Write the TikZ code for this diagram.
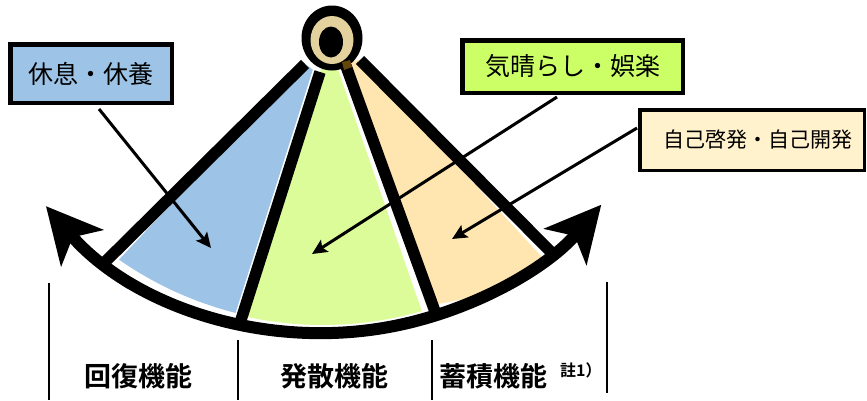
\documentclass[tikz,border=0pt]{standalone}
\usepackage{fontspec}
\newfontfamily\jp{Noto Sans CJK JP}[BoldFont={Noto Sans CJK JP Bold}]
\usetikzlibrary{arrows.meta,calc}
\definecolor{blueF}{RGB}{157,195,230}
\definecolor{greenF}{RGB}{220,252,154}
\definecolor{tanF}{RGB}{255,230,176}
\definecolor{greenBox}{RGB}{204,255,102}
\definecolor{creamBox}{RGB}{255,242,204}
\definecolor{pivotTan}{RGB}{228,210,158}
\definecolor{brownP}{RGB}{100,70,10}
\tikzset{bigtip/.tip={Stealth[length=55pt,width=55pt,inset=14pt]}}
\begin{document}
\begin{tikzpicture}[x=1pt,y=1pt,
  spoke/.style={line width=11.5pt, line cap=butt},
  conn/.style={line width=3pt, -{Stealth[length=15pt,width=14pt,inset=3pt]}},
  sepline/.style={line width=2.5pt},
  box/.style={draw=black, inner sep=0pt},
  func/.style={font=\jp\bfseries\fontsize{27}{30}\selectfont, inner sep=0pt}
]
\useasboundingbox (0,0) rectangle (867,-400);
\coordinate (C) at (323,33);
% spoke ends
\coordinate (L1a) at (305,-64); \coordinate (L1b) at (105,-262);
\coordinate (L2a) at (320,-72); \coordinate (L2b) at (240,-323);
\coordinate (L3a) at (346,-66); \coordinate (L3b) at (437,-317);
\coordinate (L4a) at (360,-60); \coordinate (L4b) at (552,-253);
% fills
\fill[blueF] (304,-63) -- (119,-259.6) arc[start angle=235.06, end angle=255.8, radius=356pt] -- (312.8,-69.7) -- cycle;
\fill[blueF] (103,-271) -- (127,-289) -- (131,-285) -- (107,-267) -- cycle;
\fill[greenF] (322,-66) -- (242.8,-315.9) arc[start angle=257.05, end angle=286.02, radius=358pt] -- (338,-69.6) -- cycle;
\fill[tanF] (345,-62) -- (431.5,-305) .. controls (470,-299) and (520,-287) .. (547.2,-262.7) -- (360,-60) -- cycle;
% spokes
\draw[spoke] (L1a) -- (L1b);
\draw[spoke] (L2a) -- (L2b);
\draw[spoke] (L3a) -- (L3b);
\draw[spoke] (L4a) -- (L4b);
% base arc with arrows
\draw[line width=12pt, {bigtip}-{bigtip}] ($(C)+(220.8:366)$) arc[start angle=220.8, end angle=319.5, radius=366pt];
% pivot
\fill[black] (332,-38) ellipse[x radius=30.5pt, y radius=32.5pt];
\coordinate (pivot) at (332,-38);
\fill[pivotTan] (332,-40) ellipse[x radius=21.5pt, y radius=24pt];
\fill[black] (331,-42) ellipse[x radius=12pt, y radius=15.5pt];
\fill[brownP] (342,-62) -- (350,-60) -- (352,-67) -- (344,-70) -- cycle;
% boxes
\node[box, fill=blueF, line width=4.5pt, minimum width=161.5pt, minimum height=58.5pt, font=\jp\fontsize{25}{28}\selectfont] (b1) at (91,-73.5) {休息・休養};
\node[box, fill=greenBox, line width=4.5pt, minimum width=220.5pt, minimum height=52.5pt, font=\jp\fontsize{25}{28}\selectfont] (b2) at (572.5,-66.5) {気晴らし・娯楽};
\node[box, fill=creamBox, line width=3.5pt, minimum width=224.5pt, minimum height=60.5pt, font=\jp\fontsize{21}{24}\selectfont] (b3) at (752,-140) {\hspace*{12pt}自己啓発・自己開発};
% connectors
\coordinate (t1) at (211,-248);
\coordinate (t2) at (312,-254);
\coordinate (t3) at (452,-239);
\draw[conn] ([xshift=8pt,yshift=-4pt]b1.south) -- (t1);
\draw[conn] ([xshift=-15.5pt,yshift=-2pt]b2.south) -- (t2);
\draw[conn] ([xshift=-1pt,yshift=12pt]b3.west) -- (t3);
% separators
\coordinate (s1a) at (49,-283); \coordinate (s1b) at (49,-400);
\coordinate (s2a) at (238,-340); \coordinate (s2b) at (238,-400);
\coordinate (s3a) at (432,-340); \coordinate (s3b) at (432,-400);
\coordinate (s4a) at (607,-282); \coordinate (s4b) at (607,-393);
\draw[sepline] (s1a) -- (s1b);
\draw[sepline] (s2a) -- (s2b);
\draw[sepline] (s3a) -- (s3b);
\draw[sepline] (s4a) -- (s4b);
% function labels
\node[func] (f1) at (138.5,-376) {回復機能};
\node[func] (f2) at (334,-376) {発散機能};
\node[func] (f3) at (493.5,-376) {蓄積機能};
\node[font=\jp\bfseries\fontsize{16}{18}\selectfont, inner sep=0pt, anchor=west] (n1) at (560,-370) {註1）};
\end{tikzpicture}
\end{document}
